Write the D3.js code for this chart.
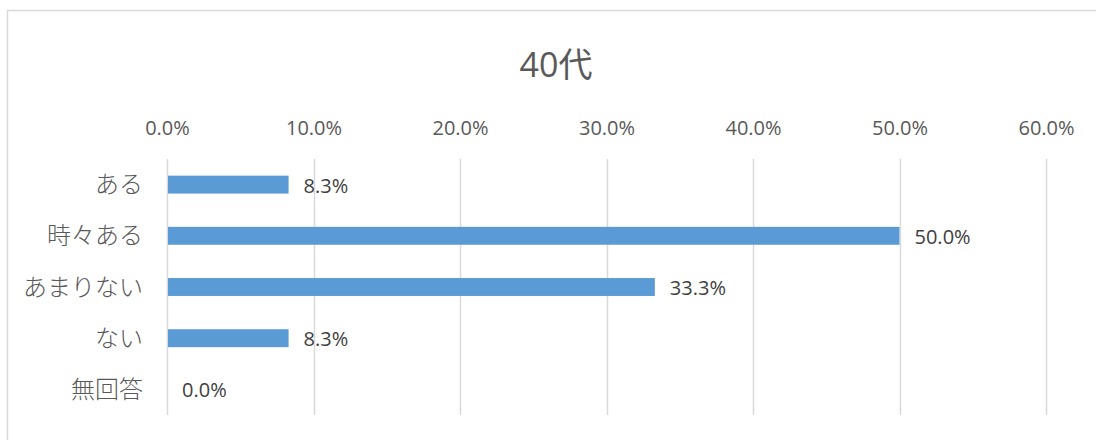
<!DOCTYPE html>
<html>
<head>
<meta charset="utf-8">
<script src="https://cdn.jsdelivr.net/npm/d3@7"></script>
<style>
  body { margin: 0; background: #fff; }
  svg text { font-family: "Open Sans", "Noto Sans CJK JP", sans-serif; }
</style>
</head>
<body>
<div id="chart"></div>
<script>
// chart data
const title = '40代';
const categories = ['ある', '時々ある', 'あまりない', 'ない', '無回答'];
const values = [0.083, 0.5, 0.333, 0.083, 0.0];
const tickValues = [0, 0.1, 0.2, 0.3, 0.4, 0.5, 0.6];

const width = 1096, height = 440;
const margin = { top: 159, right: 50, bottom: 25, left: 167 };

const svg = d3.select('#chart').append('svg')
  .attr('width', width)
  .attr('height', height);

// chart area border
svg.append('rect')
  .attr('x', 7.5).attr('y', 10.5)
  .attr('width', width + 20).attr('height', height + 20)
  .attr('fill', 'none')
  .attr('stroke', '#d9d9d9')
  .attr('stroke-width', 1.5);

const x = d3.scaleLinear()
  .domain([0, 0.6])
  .range([margin.left, 1046]);

const y = d3.scaleBand()
  .domain(categories)
  .range([margin.top, height - margin.bottom])
  .paddingInner(0.65)
  .paddingOuter(0.325);

const fmt = d3.format('.1%');

// title
svg.append('text')
  .attr('x', 556).attr('y', 77)
  .attr('text-anchor', 'middle')
  .attr('fill', '#595959')
  .style('font-family', '"Open Sans", "Noto Sans CJK JP", sans-serif')
  .style('font-size', '34px')
  .text(title);

// gridlines
svg.append('g')
  .selectAll('line')
  .data(tickValues)
  .join('line')
    .attr('x1', d => Math.round(x(d)) + 0.5)
    .attr('x2', d => Math.round(x(d)) + 0.5)
    .attr('y1', margin.top)
    .attr('y2', height - margin.bottom)
    .attr('stroke', '#d9d9d9')
    .attr('stroke-width', 1.5);

// top axis, labels only
const xAxis = svg.append('g')
  .attr('transform', `translate(0,${margin.top - 21})`)
  .call(d3.axisTop(x).tickValues(tickValues).tickFormat(fmt).tickSize(0));
xAxis.select('.domain').remove();
xAxis.selectAll('text')
  .attr('fill', '#595959')
  .style('font-family', '"Open Sans", sans-serif')
  .style('font-size', '20px');

// left axis, labels only
const yAxis = svg.append('g')
  .attr('transform', `translate(${margin.left - 21},0)`)
  .call(d3.axisLeft(y).tickSize(0));
yAxis.select('.domain').remove();
yAxis.selectAll('text')
  .attr('fill', '#595959')
  .attr('dy', '0.36em')
  .style('font-family', '"Noto Sans CJK JP", sans-serif')
  .style('font-weight', 300)
  .style('font-size', '24px');

// bars
svg.append('g')
  .selectAll('rect')
  .data(values)
  .join('rect')
    .attr('x', x(0) + 1)
    .attr('y', (d, i) => y(categories[i]))
    .attr('width', d => Math.max(0, x(d) - x(0) - 1))
    .attr('height', y.bandwidth())
    .attr('fill', '#5b9bd5');

// value labels
svg.append('g')
  .selectAll('text')
  .data(values)
  .join('text')
    .attr('x', d => x(d) + 15)
    .attr('y', (d, i) => y(categories[i]) + y.bandwidth() / 2 + 8)
    .attr('fill', '#404040')
    .style('font-family', '"Open Sans", sans-serif')
    .style('font-size', '20px')
    .text(d => fmt(d));
</script>
</body>
</html>
